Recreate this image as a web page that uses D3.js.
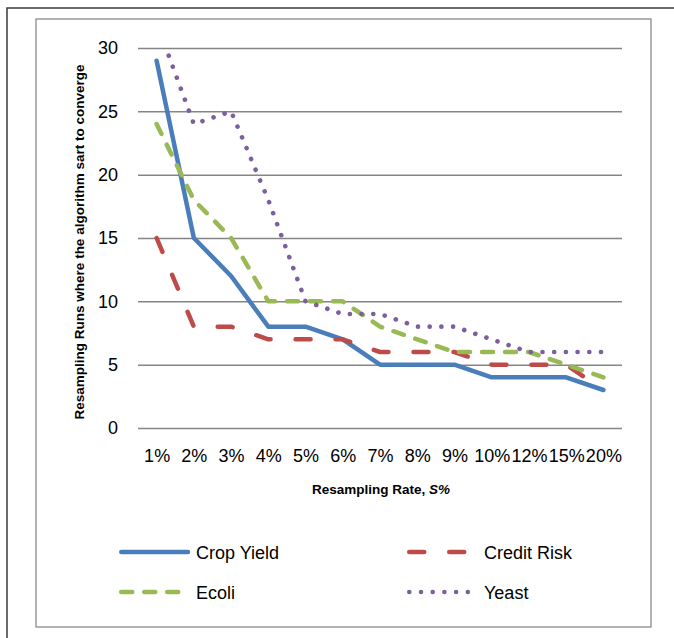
<!DOCTYPE html>
<html>
<head>
<meta charset="utf-8">
<script src="https://cdn.jsdelivr.net/npm/d3@7"></script>
<style>
  html, body { margin: 0; padding: 0; background: #ffffff; }
  svg { display: block; }
  text { font-family: "Liberation Sans", Arial, sans-serif; fill: #000; }
</style>
</head>
<body>
<svg id="chart" width="674" height="638"></svg>
<script>
const categories = ["1%", "2%", "3%", "4%", "5%", "6%", "7%", "8%", "9%", "10%", "12%", "15%", "20%"];
const cropYield  = [29, 15, 12, 8, 8, 7, 5, 5, 5, 4, 4, 4, 3];
const creditRisk = [15, 8, 8, 7, 7, 7, 6, 6, 6, 5, 5, 5, 3];
const ecoli      = [24, 18, 15, 10, 10, 10, 8, 7, 6, 6, 6, 5, 4];
const yeast      = [32, 24, 25, 18, 10, 9, 9, 8, 8, 7, 6, 6, 6];
const yTicks     = [0, 5, 10, 15, 20, 25, 30];
const seriesNames = ["Crop Yield", "Credit Risk", "Ecoli", "Yeast"];

(function () {
const styles = {
  "Crop Yield":  { color: "#4A7EBB", dash: null },
  "Credit Risk": { color: "#BE4B48", dash: "15,25" },
  "Ecoli":       { color: "#98B954", dash: "11,12" },
  "Yeast":       { color: "#7D5FA0", dash: "0.1,11.6" }
};
const seriesData = {
  "Crop Yield": cropYield, "Credit Risk": creditRisk, "Ecoli": ecoli, "Yeast": yeast
};

const svg = d3.select("#chart");

// frames
svg.append("rect").attr("x", 7).attr("y", 8).attr("width", 720).attr("height", 720)
  .attr("fill", "none").attr("stroke", "#3a3a3a").attr("stroke-width", 1.5);
svg.append("rect").attr("x", 36).attr("y", 19).attr("width", 615).attr("height", 608)
  .attr("fill", "#fff").attr("stroke", "#8a8a8a").attr("stroke-width", 1.3);

const pLeft = 138, pRight = 622, pTop = 48, pBottom = 428;
const x = d3.scalePoint().domain(categories).range([pLeft, pRight]).padding(0.5);
const y = d3.scaleLinear().domain([0, 30]).range([pBottom, pTop]);

// y axis with gridlines
const yAxis = svg.append("g").attr("transform", `translate(${pLeft},0)`)
  .call(d3.axisLeft(y).tickValues(yTicks).tickSize(-(pRight - pLeft)).tickPadding(20));
yAxis.select(".domain").remove();
yAxis.selectAll(".tick line").attr("stroke", "#858585").attr("stroke-width", 1.5);
yAxis.selectAll(".tick text").attr("font-size", 18).attr("font-family", "Liberation Sans, Arial, sans-serif").attr("fill", "#000");

// x axis labels
const xAxis = svg.append("g").attr("transform", `translate(0,${pBottom})`)
  .call(d3.axisBottom(x).tickSize(0).tickPadding(21));
xAxis.select(".domain").remove();
xAxis.selectAll(".tick text").attr("font-size", 18).attr("font-family", "Liberation Sans, Arial, sans-serif").attr("fill", "#000");

// clip
svg.append("clipPath").attr("id", "plotclip").append("rect")
  .attr("x", pLeft).attr("y", pTop).attr("width", pRight - pLeft).attr("height", pBottom - pTop + 10);

const line = d3.line().x((d, i) => x(categories[i])).y(d => y(d));

const plot = svg.append("g").attr("clip-path", "url(#plotclip)");
seriesNames.forEach(name => {
  const s = styles[name];
  plot.append("path").datum(seriesData[name])
    .attr("d", line)
    .attr("fill", "none")
    .attr("stroke", s.color)
    .attr("stroke-width", name === "Yeast" ? 4.6 : 4.5)
    .attr("stroke-linecap", "round")
    .attr("stroke-linejoin", "round")
    .attr("stroke-dasharray", s.dash);
});

// y axis title
const yTitle = svg.append("text")
  .attr("transform", `translate(84,${(pTop + pBottom) / 2 + 4}) rotate(-90)`)
  .attr("text-anchor", "middle")
  .attr("font-weight", "bold")
  .attr("font-size", 13)
  .text("Resampling Runs where the algorithm sart to converge");
const yl = yTitle.node().getComputedTextLength();
yTitle.attr("font-size", 13 * 355 / yl);

// x axis title
const xTitle = svg.append("text")
  .attr("x", 381).attr("y", 494)
  .attr("text-anchor", "middle")
  .attr("font-weight", "bold")
  .attr("font-size", 13);
xTitle.append("tspan").text("Resampling Rate, ");
xTitle.append("tspan").attr("font-style", "italic").text("S%");
const xl = xTitle.node().getComputedTextLength();
xTitle.attr("font-size", 13 * 138 / xl);

// legend
const legendPos = [
  { name: "Crop Yield", lx: 119, ly: 552 },
  { name: "Credit Risk", lx: 407, ly: 552 },
  { name: "Ecoli", lx: 119, ly: 592 },
  { name: "Yeast", lx: 407, ly: 592 }
];
legendPos.forEach(p => {
  const s = styles[p.name];
  svg.append("line")
    .attr("x1", p.lx + 2.25).attr("x2", p.lx + 69)
    .attr("y1", p.ly).attr("y2", p.ly)
    .attr("stroke", s.color).attr("stroke-width", 4.5)
    .attr("stroke-linecap", "round")
    .attr("stroke-dasharray", s.dash);
  svg.append("text")
    .attr("x", p.lx + 77).attr("y", p.ly + 6.5)
    .attr("font-size", 18)
    .text(p.name);
});
})();
</script>
</body>
</html>
